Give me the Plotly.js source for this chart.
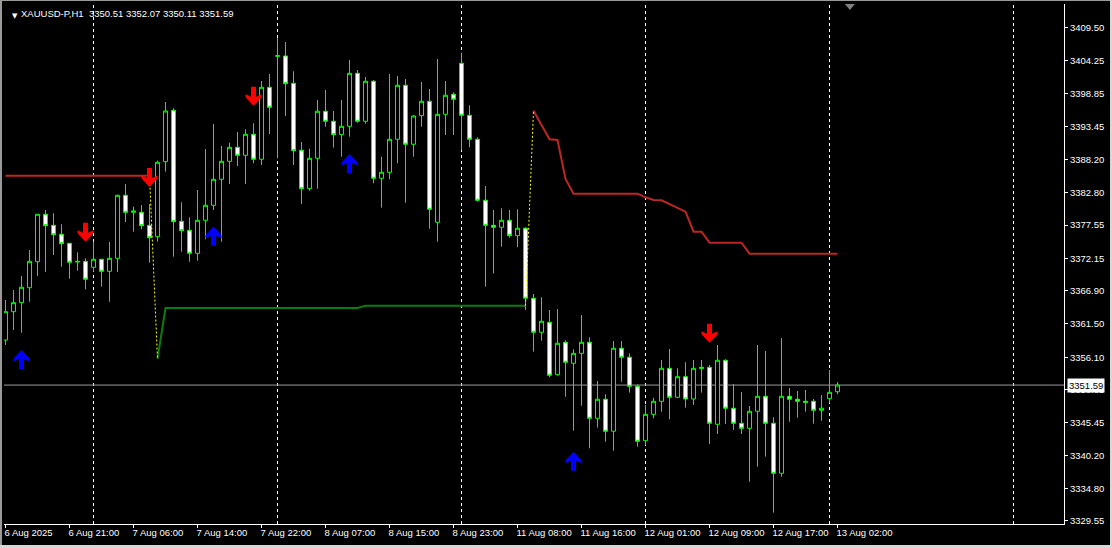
<!DOCTYPE html>
<html>
<head>
<meta charset="utf-8">
<script src="https://cdn.plot.ly/plotly-3.0.1.min.js"></script>
<style>
  html, body { margin: 0; padding: 0; background: #000; overflow: hidden; }
  #chart { position: absolute; left: 0; top: 0; width: 1112px; height: 548px; }
  .frame { position: absolute; pointer-events: none; }
</style>
</head>
<body>
<div id="chart"></div>
<div class="frame" style="left:0;top:0;width:2px;height:548px;background:#9a9a9a;"></div>
<div class="frame" style="left:0;top:0;width:1112px;height:1px;background:#9a9a9a;"></div>
<div class="frame" style="left:1110px;top:0;width:2px;height:548px;background:#d8d8d8;"></div>
<div class="frame" style="left:0;top:545px;width:1112px;height:3px;background:#d8d8d8;"></div>
<script>
// ---- Data: XAUUSD-P, H1 bars (index 0 = 6 Aug 2025 13:00) ----
const open = [3358.90,3363.49,3364.95,3367.38,3371.60,3379.29,3377.50,3376.04,3374.58,3371.66,
3371.66,3370.69,3371.99,3370.04,3372.15,3382.37,3379.61,3379.61,3377.50,3375.65,
3387.82,3396.15,3378.15,3376.69,3372.96,3378.31,3380.75,3384.96,3387.88,3390.15,
3388.85,3392.26,3388.21,3399.88,3404.90,3404.96,3400.53,3389.67,3383.44,3388.37,
3395.99,3394.37,3392.20,3393.56,3402.15,3394.37,3400.86,3385.13,3386.10,3391.45,
3400.21,3390.64,3395.28,3397.61,3377.99,3395.50,3398.75,3403.77,3395.34,3391.45,
3381.56,3377.50,3377.18,3378.31,3375.82,3377.02,3365.67,3360.15,3361.77,3353.28,
3358.53,3355.12,3356.74,3358.53,3346.20,3349.29,3344.10,3357.56,3356.10,3351.39,
3342.57,3346.85,3348.96,3354.31,3349.61,3352.95,3349.33,3354.25,3354.47,3345.23,
3355.61,3347.83,3345.39,3344.58,3347.34,3349.77,3345.39,3337.29,3349.77,3349.29,
3348.96,3348.96,3347.50,3349.38,3350.51];
const high = [3365.39,3367.01,3369.28,3373.50,3379.34,3379.98,3379.45,3377.67,3374.63,3373.12,
3372.15,3374.84,3372.04,3374.79,3382.47,3384.20,3380.52,3380.80,3380.96,3387.98,
3397.50,3396.48,3381.23,3378.80,3383.23,3389.88,3393.93,3390.36,3390.90,3392.63,
3393.07,3394.04,3400.90,3402.04,3407.88,3407.23,3402.48,3391.01,3389.93,3397.82,
3399.44,3396.04,3397.82,3404.31,3402.69,3401.55,3401.07,3388.63,3402.04,3401.72,
3401.23,3395.39,3400.74,3399.61,3404.47,3400.90,3399.07,3405.49,3396.96,3391.77,
3383.88,3379.98,3380.26,3379.98,3380.10,3377.18,3366.36,3365.83,3363.77,3363.93,
3358.86,3357.39,3362.96,3359.34,3352.25,3350.10,3358.74,3358.74,3356.74,3351.72,
3348.36,3349.54,3355.66,3357.44,3354.31,3355.29,3355.66,3355.66,3354.85,3358.09,
3355.77,3351.77,3350.47,3348.20,3358.09,3357.12,3346.37,3359.23,3351.12,3350.63,
3350.79,3349.33,3349.98,3354.04,3352.07];
const low = [3358.09,3360.52,3360.09,3365.11,3369.28,3369.93,3372.69,3370.79,3368.84,3370.14,
3367.12,3369.98,3367.55,3365.11,3369.93,3378.04,3376.47,3376.85,3371.44,3374.84,
3386.20,3372.41,3373.22,3371.60,3371.76,3375.23,3379.98,3374.84,3384.20,3387.12,
3384.20,3387.56,3387.28,3392.31,3388.37,3395.23,3387.28,3380.96,3383.11,3383.44,
3393.49,3390.09,3388.63,3391.87,3394.14,3393.98,3384.31,3380.36,3384.96,3387.56,
3381.17,3388.63,3393.49,3376.95,3374.84,3392.15,3392.15,3389.71,3390.15,3381.33,
3367.55,3369.72,3374.03,3375.49,3373.94,3363.77,3357.01,3358.79,3352.85,3353.11,
3349.71,3344.19,3348.25,3341.34,3344.68,3342.41,3340.95,3352.14,3350.36,3341.60,
3341.87,3346.20,3347.27,3346.04,3349.50,3347.92,3348.36,3350.36,3342.04,3343.66,
3345.28,3344.31,3343.66,3335.92,3338.36,3339.98,3330.90,3336.73,3345.65,3346.30,
3347.27,3345.33,3345.81,3348.73,3350.11];
const close = [3363.49,3364.95,3367.45,3371.66,3379.29,3377.44,3375.98,3374.52,3371.50,3371.58,
3368.75,3371.99,3370.04,3372.15,3382.37,3379.61,3379.82,3377.44,3375.49,3387.72,
3396.04,3378.09,3376.63,3372.96,3378.31,3380.75,3384.96,3387.88,3390.15,3388.85,
3392.26,3388.21,3399.88,3396.64,3405.00,3400.47,3389.60,3383.44,3388.37,3395.99,
3394.37,3392.20,3393.56,3402.15,3394.37,3400.86,3385.13,3386.10,3391.45,3400.21,
3390.64,3395.23,3397.61,3380.10,3395.50,3398.59,3397.94,3395.34,3391.45,3381.56,
3377.50,3377.18,3378.31,3375.82,3377.02,3365.67,3360.15,3361.94,3353.18,3358.37,
3355.29,3356.74,3358.53,3346.20,3349.29,3344.10,3357.56,3356.10,3351.39,3342.47,
3346.85,3348.96,3354.31,3349.61,3352.95,3349.33,3354.31,3354.47,3345.39,3355.61,
3347.83,3345.39,3344.58,3347.34,3349.77,3345.39,3337.29,3349.77,3349.29,3348.96,
3348.80,3347.50,3347.83,3350.42,3351.59];

// Trailing-stop style indicator: red = above price (down trend), green = below (up trend)
const N = null;
const redLine = [
/* 0-9   */ 3385.55,3385.55,3385.55,3385.55,3385.55,3385.55,3385.55,3385.55,3385.55,3385.55,
/* 10-19 */ 3385.55,3385.55,3385.55,3385.55,3385.55,3385.55,3385.55,3385.55,3385.55,N,
/* 20-29 */ N,N,N,N,N,N,N,N,N,N,
/* 30-39 */ N,N,N,N,N,N,N,N,N,N,
/* 40-49 */ N,N,N,N,N,N,N,N,N,N,
/* 50-59 */ N,N,N,N,N,N,N,N,N,N,
/* 60-69 */ N,N,N,N,N,N,3396.09,3393.77,3391.45,3391.34,
/* 70-79 */ 3385.01,3382.63,3382.63,3382.63,3382.63,3382.63,3382.63,3382.63,3382.63,3382.63,
/* 80-89 */ 3382.04,3381.61,3381.56,3380.96,3380.31,3379.71,3376.47,3376.47,3374.68,3374.68,
/* 90-99 */ 3374.68,3374.68,3374.68,3372.90,3372.90,3372.90,3372.90,3372.90,3372.90,3372.90,
/* 100-104 */ 3372.90,3372.90,3372.90,3372.90,3372.90];
const greenLine = [
/* 0-9   */ N,N,N,N,N,N,N,N,N,N,
/* 10-19 */ N,N,N,N,N,N,N,N,N,3355.82,
/* 20-29 */ 3364.09,3364.09,3364.09,3364.09,3364.09,3364.09,3364.09,3364.09,3364.09,3364.09,
/* 30-39 */ 3364.09,3364.09,3364.09,3364.09,3364.09,3364.09,3364.09,3364.09,3364.09,3364.09,
/* 40-49 */ 3364.09,3364.09,3364.09,3364.09,3364.09,3364.46,3364.46,3364.46,3364.46,3364.46,
/* 50-59 */ 3364.46,3364.46,3364.46,3364.46,3364.46,3364.46,3364.46,3364.46,3364.46,3364.46,
/* 60-69 */ 3364.46,3364.46,3364.46,3364.46,3364.46,3364.46,N,N,N,N,
/* 70-79 */ N,N,N,N,N,N,N,N,N,N,
/* 80-89 */ N,N,N,N,N,N,N,N,N,N,
/* 90-99 */ N,N,N,N,N,N,N,N,N,N,
/* 100-104 */ N,N,N,N,N];

// Signal arrows: bar index and tip price
const buyIdx = [2, 26, 43, 71];
const buyPrice = [3357.28, 3377.28, 3389.07, 3340.79];
const sellIdx = [10, 18, 31, 88];
const sellPrice = [3374.84, 3383.71, 3396.90, 3358.46];

// Time axis labels
const tickIdx = [0, 8, 16, 24, 32, 40, 48, 56, 64, 72, 80, 88, 96, 104];
const tickText = ["6 Aug 2025","6 Aug 21:00","7 Aug 06:00","7 Aug 14:00","7 Aug 22:00","8 Aug 07:00",
  "8 Aug 15:00","8 Aug 23:00","11 Aug 08:00","11 Aug 16:00","12 Aug 01:00","12 Aug 09:00",
  "12 Aug 17:00","13 Aug 02:00"];
// Day separators (first bar of each day)
const dayStartIdx = [11, 34, 57, 80, 103, 126];
// Price axis labels
const priceTicks = [3409.50,3404.25,3398.85,3393.45,3388.20,3382.80,3377.55,3372.15,
  3366.90,3361.50,3356.10,3350.85,3345.45,3340.20,3334.80,3329.55];

const symbolName = "XAUUSD-P,H1";

// ---- Build ----
const idx = open.map((_, i) => i);
const last = open.length - 1;

const traces = [];
traces.push({
  type: 'candlestick', x: idx, open: open, high: high, low: low, close: close,
  increasing: { line: { color: '#00ff00', width: 1 }, fillcolor: '#000000' },
  decreasing: { line: { color: '#00ff00', width: 1 }, fillcolor: '#ffffff' },
  whiskerwidth: 0, hoverinfo: 'skip', showlegend: false
});
traces.push({ type: 'scatter', mode: 'lines', x: idx, y: redLine, connectgaps: false,
  line: { color: '#bb2626', width: 2, shape: 'linear' }, hoverinfo: 'skip', showlegend: false });
traces.push({ type: 'scatter', mode: 'lines', x: idx, y: greenLine, connectgaps: false,
  line: { color: '#0b7d0b', width: 2 }, hoverinfo: 'skip', showlegend: false });

// yellow dotted connectors where trend switches
for (let i = 1; i < idx.length; i++) {
  const a = redLine[i-1] != null ? redLine[i-1] : greenLine[i-1];
  const b = redLine[i] != null ? redLine[i] : greenLine[i];
  const switched = (redLine[i-1] != null && greenLine[i] != null) || (greenLine[i-1] != null && redLine[i] != null);
  if (switched && a != null && b != null) {
    traces.push({ type: 'scatter', mode: 'lines', x: [i-1, i], y: [a, b],
      line: { color: '#ffff00', width: 1, dash: '2px,2px' }, hoverinfo: 'skip', showlegend: false });
  }
}

const shapes = [];
dayStartIdx.forEach(d => shapes.push({
  type: 'line', xref: 'x', yref: 'paper', x0: d, x1: d, y0: 0, y1: 1, layer: 'below',
  line: { color: '#ffffff', width: 1, dash: '3px,3px' }
}));
shapes.push({ type: 'line', xref: 'paper', yref: 'y', x0: 0, x1: 1, y0: close[last], y1: close[last],
  layer: 'below', line: { color: '#9a9a9a', width: 1 } });

const upPath = 'M0,0 L8,-8.5 L8,-11.5 L2.5,-9 L2.5,-19 L-2.5,-19 L-2.5,-9 L-8,-11.5 L-8,-8.5 Z';
const downPath = 'M0,0 L8,8.5 L8,11.5 L2.5,9 L2.5,19 L-2.5,19 L-2.5,9 L-8,11.5 L-8,8.5 Z';
buyIdx.forEach((b, k) => shapes.push({
  type: 'path', xref: 'x', yref: 'y', xsizemode: 'pixel', ysizemode: 'pixel',
  xanchor: b, yanchor: buyPrice[k], path: upPath, layer: 'above',
  fillcolor: '#0000ff', line: { width: 0 }
}));
sellIdx.forEach((s, k) => shapes.push({
  type: 'path', xref: 'x', yref: 'y', xsizemode: 'pixel', ysizemode: 'pixel',
  xanchor: s, yanchor: sellPrice[k], path: downPath, layer: 'above',
  fillcolor: '#ff0000', line: { width: 0 }
}));
// chart-shift marker (UI)
shapes.push({ type: 'path', xref: 'paper', yref: 'paper', xsizemode: 'pixel', ysizemode: 'pixel',
  xanchor: 0.798, yanchor: 1, path: 'M-5,0 L5,0 L0,-6 Z', fillcolor: '#808080', line: { width: 0 }, layer: 'above' });

const f = v => v.toFixed(2);
const tickFont = { family: 'Liberation Sans, Arial, sans-serif', size: 9.5, color: '#ffffff' };
const sp = '\u00a0';
const annotations = [
  { xref: 'paper', yref: 'paper', x: 0, y: 1, xanchor: 'left', yanchor: 'top', xshift: 6, yshift: -6,
    text: '▼', showarrow: false, font: { family: 'DejaVu Sans, sans-serif', size: 7, color: '#ffffff' } },
  { xref: 'paper', yref: 'paper', x: 0, y: 1, xanchor: 'left', yanchor: 'top', xshift: 15, yshift: -2,
    text: symbolName + sp + sp + [open[last], high[last], low[last], close[last]].map(f).join(' '),
    showarrow: false, font: tickFont },
  { xref: 'paper', yref: 'y', x: 1, y: close[last], xanchor: 'left', yanchor: 'middle', xshift: 3,
    text: f(close[last]), showarrow: false, bgcolor: '#ffffff', borderpad: 1,
    font: { family: 'Liberation Sans, Arial, sans-serif', size: 9.5, color: '#000000' } }
];

const layout = {
  width: 1112, height: 548,
  margin: { l: 4, r: 48, t: 4, b: 24, pad: 0 },
  paper_bgcolor: '#000000', plot_bgcolor: '#000000',
  showlegend: false, dragmode: false, hovermode: false,
  boxgap: 0.5, boxgroupgap: 0,
  xaxis: {
    type: 'linear', range: [-0.1875, 132.3125], fixedrange: true, automargin: false,
    showgrid: false, zeroline: false, showline: true, linecolor: '#ffffff', linewidth: 1,
    ticks: 'outside', ticklen: 3, tickcolor: '#ffffff', tickwidth: 1,
    tickmode: 'array', tickvals: tickIdx, ticktext: tickText, tickangle: 0,
    ticklabelposition: 'outside right', ticklabelshift: -2, tickfont: tickFont,
    rangeslider: { visible: false }
  },
  yaxis: {
    side: 'right', range: [3329.06, 3413.39], fixedrange: true, automargin: false,
    showgrid: false, zeroline: false, showline: true, linecolor: '#ffffff', linewidth: 1,
    ticks: 'outside', ticklen: 3, tickcolor: '#ffffff', tickwidth: 1,
    tickmode: 'array', tickvals: priceTicks, ticktext: priceTicks.map(f), tickfont: tickFont
  },
  shapes: shapes,
  annotations: annotations
};

Plotly.newPlot('chart', traces, layout, { staticPlot: true, displayModeBar: false });
</script>
</body>
</html>
